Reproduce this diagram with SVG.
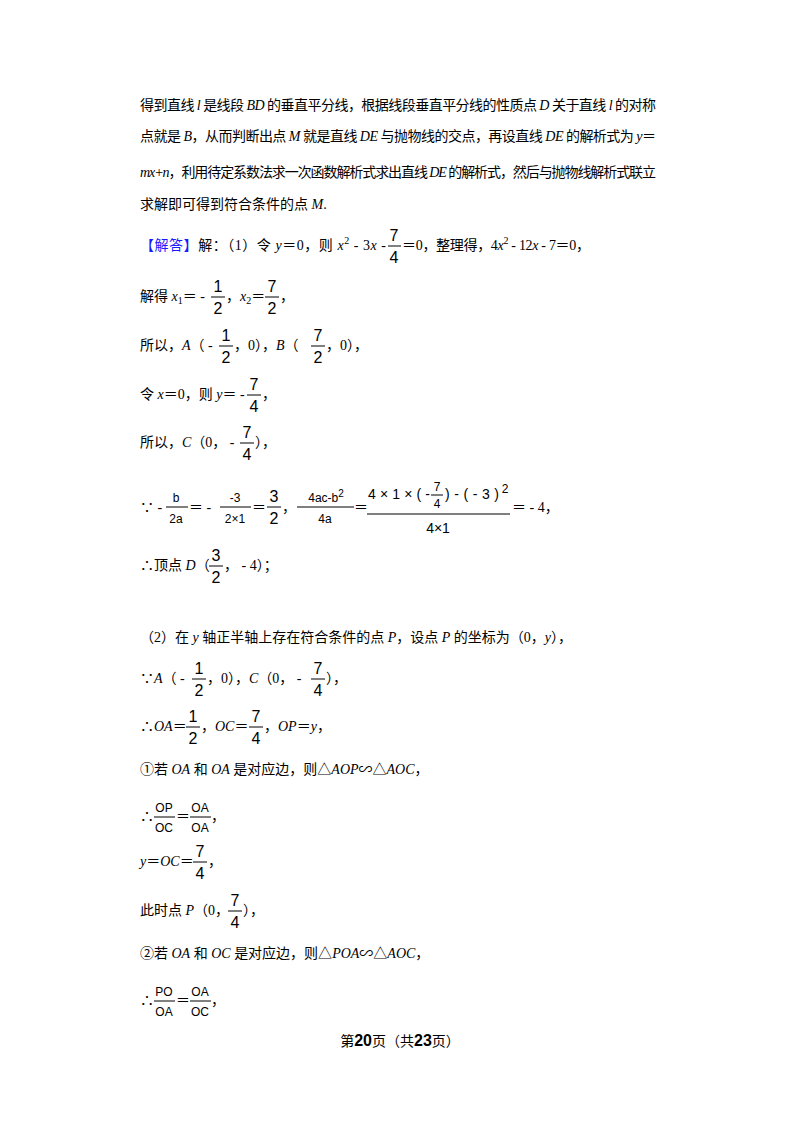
<svg xmlns="http://www.w3.org/2000/svg" width="800" height="1132" viewBox="0 0 800 1132">
<style>
text{font-family:"Liberation Serif","Noto Sans CJK SC",serif;font-size:14px;fill:#000}
.i{font-style:italic}
.n{font-family:"Liberation Sans","Noto Sans CJK SC",sans-serif;font-size:16px;text-anchor:middle}
.s{font-family:"Liberation Sans",sans-serif;font-size:12px;text-anchor:middle}
.m{font-family:"Liberation Sans",sans-serif;font-size:14px}
.bl{fill:#1a1aff}
line{stroke:#000;stroke-width:1}
</style>
<rect width="800" height="1132" fill="#fff"/>
<g id="intro">
<text x="140" y="110" textLength="516" lengthAdjust="spacing">得到直线 <tspan class="i">l</tspan> 是线段 <tspan class="i">BD</tspan> 的垂直平分线，根据线段垂直平分线的性质点 <tspan class="i">D</tspan> 关于直线 <tspan class="i">l</tspan> 的对称</text>
<text x="140" y="141" textLength="516" lengthAdjust="spacing">点就是 <tspan class="i">B</tspan>，从而判断出点 <tspan class="i">M</tspan> 就是直线 <tspan class="i">DE</tspan> 与抛物线的交点，再设直线 <tspan class="i">DE</tspan> 的解析式为 <tspan class="i">y</tspan>＝</text>
<text x="140" y="177" textLength="516" lengthAdjust="spacing"><tspan class="i">mx+n</tspan>，利用待定系数法求一次函数解析式求出直线 <tspan class="i">DE</tspan> 的解析式，然后与抛物线解析式联立</text>
<text x="140" y="209">求解即可得到符合条件的点 <tspan class="i">M</tspan>.</text>
</g>
<g id="part1">
<text x="140" y="250" textLength="246" lengthAdjust="spacing"><tspan class="bl">【解答】</tspan>解：（1）令 <tspan class="i">y</tspan>＝0，则 <tspan class="i">x</tspan><tspan font-size="10" dy="-6">2</tspan><tspan dy="6"> - 3</tspan><tspan class="i">x</tspan> -</text>
<text class="n" x="394" y="241">7</text><line x1="388" y1="246" x2="401" y2="246"/><text class="n" x="394" y="263">4</text>
<text x="402" y="250" textLength="188" lengthAdjust="spacing">＝0，整理得，4<tspan class="i">x</tspan><tspan font-size="10" dy="-6">2</tspan><tspan dy="6"> - 12</tspan><tspan class="i">x</tspan> - 7＝0，</text>

<text x="140" y="301">解得 <tspan class="i">x</tspan><tspan font-size="10" dy="3">1</tspan><tspan dy="-3">＝ -</tspan></text>
<text class="n" x="218" y="292">1</text><line x1="211" y1="297" x2="225" y2="297"/><text class="n" x="218" y="314">2</text>
<text x="226" y="301">，</text>
<text x="240" y="301"><tspan class="i">x</tspan><tspan font-size="10" dy="3">2</tspan><tspan dy="-3">＝</tspan></text>
<text class="n" x="272" y="292">7</text><line x1="265" y1="297" x2="279" y2="297"/><text class="n" x="272" y="314">2</text>
<text x="280" y="301">，</text>

<text x="140" y="350">所以，<tspan class="i">A</tspan>（ -</text>
<text class="n" x="226" y="341">1</text><line x1="219" y1="346" x2="233" y2="346"/><text class="n" x="226" y="363">2</text>
<text x="234" y="350">，0），<tspan class="i">B</tspan>（</text>
<text class="n" x="318" y="341">7</text><line x1="311" y1="346" x2="325" y2="346"/><text class="n" x="318" y="363">2</text>
<text x="326" y="350">，0），</text>

<text x="140" y="399">令 <tspan class="i">x</tspan>＝0，则 <tspan class="i">y</tspan>＝ -</text>
<text class="n" x="254" y="390">7</text><line x1="247" y1="395" x2="261" y2="395"/><text class="n" x="254" y="412">4</text>
<text x="262" y="399">，</text>

<text x="140" y="447">所以，<tspan class="i">C</tspan>（0， -</text>
<text class="n" x="247" y="438">7</text><line x1="240" y1="443" x2="254" y2="443"/><text class="n" x="247" y="460">4</text>
<text x="255" y="447">），</text>

<text x="140" y="512">∵ -</text>
<text class="s" x="176" y="502">b</text><line x1="166" y1="507" x2="188" y2="507"/><text class="s" x="176" y="523">2a</text>
<text x="189" y="512">＝ -</text>
<text class="s" x="235" y="502">-3</text><line x1="220" y1="507" x2="251" y2="507"/><text class="s" x="235" y="523">2×1</text>
<text x="252" y="512">＝</text>
<text class="n" x="274" y="502">3</text><line x1="267" y1="507" x2="281" y2="507"/><text class="n" x="274" y="524">2</text>
<text x="282" y="512">，</text>
<text class="s" x="326" y="502">4ac-b<tspan font-size="10" dy="-5">2</tspan></text><line x1="297" y1="507" x2="354" y2="507"/><text class="s" x="325" y="523">4a</text>
<text x="354" y="512">＝</text>
<text class="m" x="368" y="499" textLength="62" lengthAdjust="spacing">4×1×(-</text>
<text class="s" x="437" y="491">7</text><line x1="431" y1="495" x2="443" y2="495"/><text class="s" x="437" y="508">4</text>
<text class="m" x="445" y="499" textLength="54" lengthAdjust="spacing">)-(-3)</text>
<text class="s" x="505" y="493" font-size="11">2</text>
<line x1="367" y1="514" x2="510" y2="514"/>
<text class="m" x="438" y="533" text-anchor="middle">4×1</text>
<text x="512" y="512">＝ - 4，</text>

<text x="140" y="570">∴顶点 <tspan class="i">D</tspan>（</text>
<text class="n" x="216" y="561">3</text><line x1="209" y1="566" x2="223" y2="566"/><text class="n" x="216" y="583">2</text>
<text x="224" y="570">， - 4）；</text>
</g>
<g id="part2">
<text x="140" y="642">（2）在 <tspan class="i">y</tspan> 轴正半轴上存在符合条件的点 <tspan class="i">P</tspan>，设点 <tspan class="i">P</tspan> 的坐标为（0，<tspan class="i">y</tspan>），</text>

<text x="140" y="683">∵<tspan class="i">A</tspan>（ -</text>
<text class="n" x="199" y="674">1</text><line x1="192" y1="679" x2="206" y2="679"/><text class="n" x="199" y="696">2</text>
<text x="207" y="683">，0），<tspan class="i">C</tspan>（0， -</text>
<text class="n" x="318" y="674">7</text><line x1="311" y1="679" x2="325" y2="679"/><text class="n" x="318" y="696">4</text>
<text x="326" y="683">），</text>

<text x="140" y="731">∴<tspan class="i">OA</tspan>＝</text>
<text class="n" x="193" y="722">1</text><line x1="186" y1="727" x2="200" y2="727"/><text class="n" x="193" y="744">2</text>
<text x="201" y="731">，<tspan class="i">OC</tspan>＝</text>
<text class="n" x="256" y="722">7</text><line x1="249" y1="727" x2="263" y2="727"/><text class="n" x="256" y="744">4</text>
<text x="264" y="731">，<tspan class="i">OP</tspan>＝<tspan class="i">y</tspan>，</text>

<text x="140" y="774">①若 <tspan class="i">OA</tspan> 和 <tspan class="i">OA</tspan> 是对应边，则△<tspan class="i">AOP</tspan>∽△<tspan class="i">AOC</tspan>，</text>

<text x="140" y="821">∴</text>
<text class="s" x="164" y="812">OP</text><line x1="154" y1="817" x2="175" y2="817"/><text class="s" x="164" y="832">OC</text>
<text x="176" y="821">＝</text>
<text class="s" x="200" y="812">OA</text><line x1="190" y1="817" x2="211" y2="817"/><text class="s" x="200" y="832">OA</text>
<text x="211" y="821">，</text>

<text x="140" y="866"><tspan class="i">y</tspan>＝<tspan class="i">OC</tspan>＝</text>
<text class="n" x="200" y="857">7</text><line x1="193" y1="862" x2="207" y2="862"/><text class="n" x="200" y="879">4</text>
<text x="208" y="866">，</text>

<text x="140" y="915">此时点 <tspan class="i">P</tspan>（0，</text>
<text class="n" x="235" y="906">7</text><line x1="228" y1="911" x2="242" y2="911"/><text class="n" x="235" y="928">4</text>
<text x="243" y="915">），</text>

<text x="140" y="958">②若 <tspan class="i">OA</tspan> 和 <tspan class="i">OC</tspan> 是对应边，则△<tspan class="i">POA</tspan>∽△<tspan class="i">AOC</tspan>，</text>

<text x="140" y="1005">∴</text>
<text class="s" x="164" y="996">PO</text><line x1="154" y1="1001" x2="175" y2="1001"/><text class="s" x="164" y="1016">OA</text>
<text x="176" y="1005">＝</text>
<text class="s" x="200" y="996">OA</text><line x1="190" y1="1001" x2="211" y2="1001"/><text class="s" x="200" y="1016">OC</text>
<text x="211" y="1005">，</text>
</g>
<g id="footer">
<text x="400" y="1046" text-anchor="middle" font-size="13">第<tspan font-weight="bold" font-size="16" font-family="Liberation Sans">20</tspan>页（共<tspan font-weight="bold" font-size="16" font-family="Liberation Sans">23</tspan>页）</text>
</g>
</svg>
